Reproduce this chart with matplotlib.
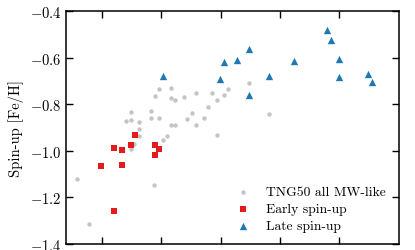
import matplotlib
matplotlib.use("Agg")
import matplotlib.pyplot as plt

plt.rcParams['font.family'] = 'serif'
plt.rcParams['font.serif'] = ['cmr10']
plt.rcParams['mathtext.fontset'] = 'cm'
plt.rcParams['axes.formatter.use_mathtext'] = True
plt.rcParams['axes.unicode_minus'] = True

# all MW-like galaxies (grey)
all_x = [0.58, 0.78, 1.40, 1.48, 1.48, 1.62, 1.62, 1.62, 1.54, 1.48,
         1.82, 1.82, 1.96, 1.89, 1.96, 2.17, 2.17, 2.23, 2.17, 2.23,
         2.09, 2.03, 1.88, 2.38, 2.58, 2.51, 2.44, 2.58, 2.72, 2.79,
         2.86, 2.93, 3.06, 3.13, 2.93, 3.48, 3.82]
all_y = [-1.121, -1.312, -0.873, -0.866, -0.832, -0.875, -0.905, -0.936, -0.971, -0.992,
         -0.827, -0.857, -0.857, -0.762, -0.734, -0.731, -0.774, -0.780, -0.890, -0.890,
         -0.936, -0.955, -1.145, -0.770, -0.749, -0.836, -0.865, -0.890, -0.857, -0.810,
         -0.753, -0.783, -0.759, -0.735, -0.932, -0.707, -0.842]

# early spin-up (red)
early_x = [0.99, 1.20, 1.34, 1.34, 1.48, 1.55, 1.20, 1.89, 1.96, 1.89]
early_y = [-1.065, -0.988, -0.994, -1.061, -0.974, -0.932, -1.257, -0.976, -0.992, -1.019]

# late spin-up (blue)
late_x = [2.03, 4.79, 4.86, 3.48, 3.06, 3.27, 4.24, 4.99, 2.99, 3.82, 4.99, 5.48, 5.55, 3.48]
late_y = [-0.677, -0.480, -0.523, -0.562, -0.618, -0.608, -0.615, -0.605, -0.690, -0.678,
          -0.684, -0.670, -0.703, -0.759]

fig = plt.figure(figsize=(4.15, 2.51), dpi=100)
ax = fig.add_axes([0.160, 0.024, 0.801, 0.927])

ax.scatter(all_x, all_y, s=10, color='#c4c4c4', marker='o', linewidths=0,
           label='TNG50 all MW-like', zorder=2)
ax.scatter(early_x, early_y, s=22, color='#e41a1c', marker='s', linewidths=0,
           label='Early spin-up', zorder=3)
ax.scatter(late_x, late_y, s=28, color='#1f77b4', marker='^', linewidths=0,
           label='Late spin-up', zorder=3)

ax.set_xlim(0.4, 6.0)
ax.set_ylim(-1.4, -0.4)
ax.set_xticks([1, 2, 3, 4, 5])
ax.set_yticks([-1.4, -1.2, -1.0, -0.8, -0.6, -0.4])
ax.tick_params(direction='in', top=True, right=True, length=5, width=1,
               labelbottom=False, labelsize=10.5)
for sp in ax.spines.values():
    sp.set_linewidth(1.1)

ax.set_ylabel('Spin-up [Fe/H]', fontsize=10.5, labelpad=4)

ax.legend(loc='lower right', frameon=False, fontsize=9.8, handletextpad=0.7,
          borderaxespad=0.45, labelspacing=0.33, markerscale=1.0,
          bbox_to_anchor=(0.997, 0.0))

fig.savefig('out.png', dpi=100)
